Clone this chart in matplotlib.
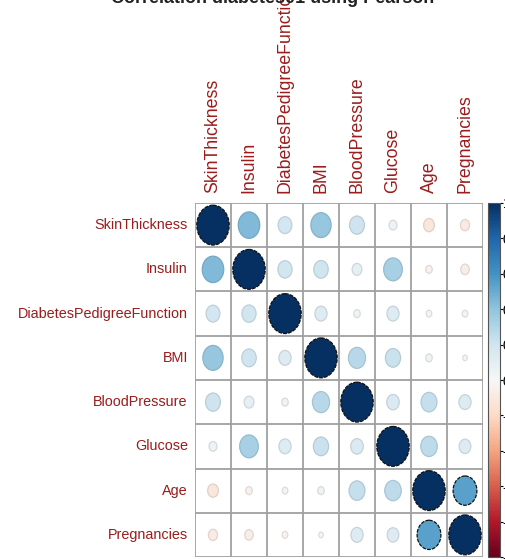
import matplotlib
matplotlib.use("Agg")
import matplotlib.pyplot as plt
import numpy as np
from matplotlib.patches import Ellipse

plt.rcParams['font.family'] = ['Liberation Sans', 'DejaVu Sans']

# Variable order (hclust order as in the reference)
variables = ["SkinThickness", "Insulin", "DiabetesPedigreeFunction", "BMI",
             "BloodPressure", "Glucose", "Age", "Pregnancies"]

# Pearson correlations, one row per variable
skin_row = [1.00, 0.44, 0.18, 0.39, 0.21, 0.06, -0.11, -0.08]
insulin_row = [0.44, 1.00, 0.19, 0.20, 0.09, 0.33, -0.04, -0.07]
dpf_row = [0.18, 0.19, 1.00, 0.14, 0.04, 0.14, 0.03, -0.03]
bmi_row = [0.39, 0.20, 0.14, 1.00, 0.28, 0.22, 0.04, 0.02]
bp_row = [0.21, 0.09, 0.04, 0.28, 1.00, 0.15, 0.24, 0.14]
glucose_row = [0.06, 0.33, 0.14, 0.22, 0.15, 1.00, 0.26, 0.13]
age_row = [-0.11, -0.04, 0.03, 0.04, 0.24, 0.26, 1.00, 0.54]
preg_row = [-0.08, -0.07, -0.03, 0.02, 0.14, 0.13, 0.54, 1.00]

corr = np.array([skin_row, insulin_row, dpf_row, bmi_row,
                 bp_row, glucose_row, age_row, preg_row])

cbar_ticks = [-1, -0.8, -0.6, -0.4, -0.2, 0, 0.2, 0.4, 0.6, 0.8, 1]
title = "Correlation diabetes01 using Pearson"

label_col = "#9b1c1c"
cmap = plt.get_cmap("RdBu")
norm = plt.Normalize(-1, 1)

fig = plt.figure(figsize=(5.06, 5.59), dpi=100)
ax = fig.add_axes([195 / 506, 2 / 559, 288 / 506, 354 / 559])
n = len(variables)

for i in range(n):
    for j in range(n):
        r = corr[i, j]
        d = 0.9 * np.sqrt(abs(r))
        fc = cmap(norm(r))
        if abs(r) > 0.5:
            ec, ls = "#111111", (0, (3, 1))
        else:
            ec, ls = tuple(c * 0.9 for c in fc[:3]), "-"
        ax.add_patch(Ellipse((j + 0.5, i + 0.5), d, d, facecolor=fc,
                             edgecolor=ec, linewidth=0.9, linestyle=ls))

for k in range(n + 1):
    ax.axhline(k, color="#a0a0a0", lw=1.3, zorder=0)
    ax.axvline(k, color="#a0a0a0", lw=1.3, zorder=0)

ax.set_xlim(0, n)
ax.set_ylim(n, 0)
for s in ax.spines.values():
    s.set_visible(False)
ax.set_xticks([])
ax.set_yticks([])

# row labels (left) and column labels (top, vertical)
for i, name in enumerate(variables):
    ax.text(-0.2, i + 0.5, name, ha="right", va="center",
            fontsize=10.4, color=label_col)
    ax.text(i + 0.5, -0.22, name, ha="center", va="bottom", rotation=90,
            fontsize=12.8, color=label_col)

fig.text(273 / 506, 1 - 3 / 559, title, ha="center", va="baseline",
         fontsize=13, fontweight="bold", color="#222222")

cax = fig.add_axes([488 / 506, 2 / 559, 12 / 506, 354 / 559])
sm = plt.cm.ScalarMappable(norm=norm, cmap=cmap)
cb = fig.colorbar(sm, cax=cax, ticks=cbar_ticks)
cb.outline.set_edgecolor("#555555")
cb.outline.set_linewidth(0.8)
cax.tick_params(length=2, width=0.8, labelsize=10, pad=0)
cb.set_ticklabels([str(t) for t in cbar_ticks])

fig.savefig("out.png", dpi=100)
